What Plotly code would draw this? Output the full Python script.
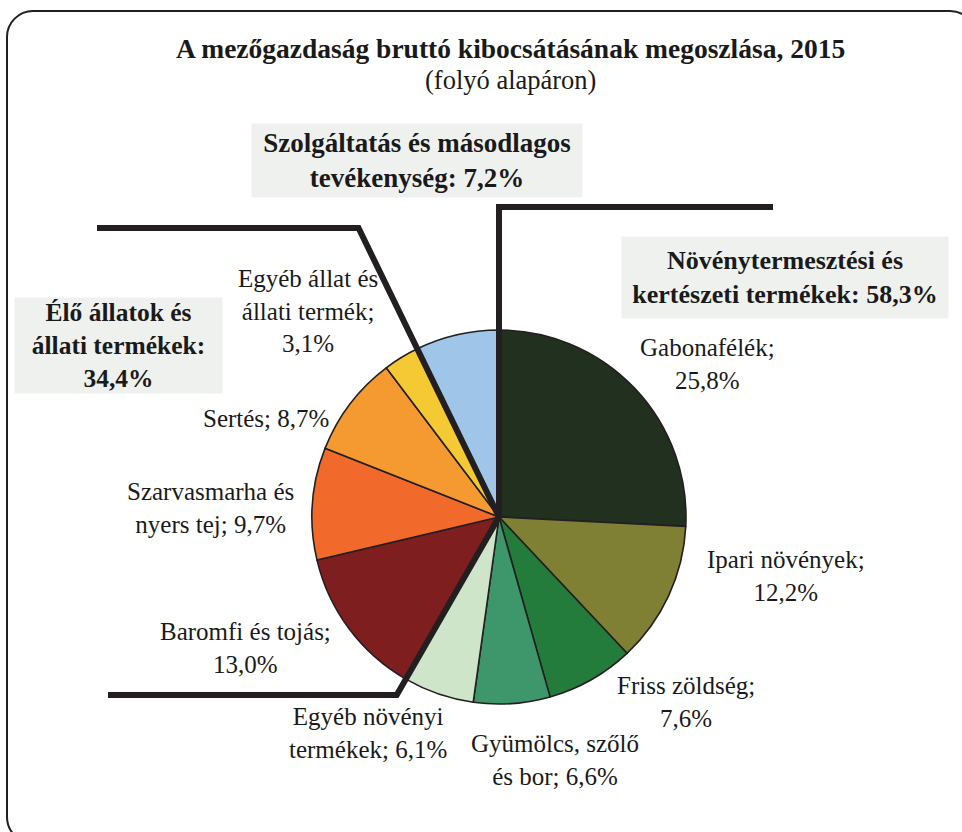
import numpy as np
import plotly.graph_objects as go

W, H = 962, 832

# slices, clockwise from 12 o'clock
names = ["Gabonafélék", "Ipari növények", "Friss zöldség", "Gyümölcs, szőlő<br>és bor",
         "Egyéb növényi<br>termékek", "Baromfi és tojás", "Szarvasmarha és<br>nyers tej",
         "Sertés", "Egyéb állat és<br>állati termék", "Szolgáltatás"]
values = [25.8, 12.2, 7.6, 6.6, 6.1, 13.0, 9.7, 8.7, 3.1, 7.2]
colors = ["#22311f", "#808034", "#237c3b", "#3d976a", "#cfe5c9",
          "#7f1e1f", "#f26a2b", "#f49a31", "#f5c933", "#9fc5e8"]
value_on_new_line = [True, True, True, False, False, True, False, False, True, None]

groups = ["Növénytermesztési és<br>kertészeti termékek: 58,3%",
          "Élő állatok és<br>állati termékek:<br>34,4%",
          "Szolgáltatás és másodlagos<br>tevékenység: 7,2%"]

title = "A mezőgazdaság bruttó kibocsátásának megoszlása, 2015"
subtitle = "(folyó alapáron)"

FONT = "Liberation Serif, serif"
INK = "#231f20"
TXT = "#1a1a1a"

cx, cy, r = 499, 517, 187


def px(x):
    return x / W


def py(y):
    return 1 - y / H


def fmt(v):
    return f"{v:.1f}".replace(".", ",") + "%"


fig = go.Figure()
fig.add_trace(go.Pie(values=values, labels=[n.replace("<br>", " ") for n in names],
                     sort=False, direction="clockwise", rotation=0,
                     marker=dict(colors=colors, line=dict(color=INK, width=1.6)),
                     textinfo="none", showlegend=False,
                     domain=dict(x=[px(cx - r), px(cx + r)], y=[py(cy + r), py(cy - r)])))

# slice labels (text positions)
label_pos = [(707, 364), (786, 576), (686, 702), (555, 760), (368, 733),
             (245, 648), (210, 508), (266, 418), (308, 311)]
annotations = []
for i, (x, y) in enumerate(label_pos):
    sep = "<br>" if value_on_new_line[i] else " "
    annotations.append(dict(x=px(x), y=py(y), xref="paper", yref="paper",
                            text=f"{names[i]};{sep}{fmt(values[i])}", showarrow=False,
                            xanchor="center", yanchor="middle", align="center",
                            font=dict(family=FONT, size=25, color=TXT)))

# group boxes: center x, center y, width, height, font size
boxes = [(785, 277.5, 326, 81, 26), (118.5, 345.5, 207, 95, 25.5), (417, 160.5, 330, 73, 27)]
for text, (x, y, w, h, fs) in zip(groups, boxes):
    annotations.append(dict(x=px(x), y=py(y), xref="paper", yref="paper",
                            text=f"<b>{text}</b>", showarrow=False, width=w, height=h,
                            borderpad=0, bgcolor="#eff1ef", xanchor="center",
                            yanchor="middle", align="center", valign="middle",
                            font=dict(family=FONT, size=fs, color=TXT)))

annotations.append(dict(x=px(510), y=py(48), xref="paper", yref="paper",
                        text=f"<b>{title}</b>", showarrow=False,
                        xanchor="center", yanchor="middle",
                        font=dict(family=FONT, size=27.5, color=TXT)))
annotations.append(dict(x=px(511), y=py(80), xref="paper", yref="paper",
                        text=subtitle, showarrow=False,
                        xanchor="center", yanchor="middle",
                        font=dict(family=FONT, size=26.5, color=TXT)))

# group separator lines follow the slice boundaries
cum = np.cumsum(values) / sum(values)


def boundary_line(frac, y_turn, x_end):
    th = 2 * np.pi * frac
    dx, dy = np.sin(th), -np.cos(th)
    t = (y_turn - cy) / dy
    xt = cx + t * dx
    return f"M{px(cx)},{py(cy)} L{px(xt)},{py(y_turn)} L{px(x_end)},{py(y_turn)}"


shapes = [
    dict(type="path", path=boundary_line(0.0, 207, 773)),
    dict(type="path", path=boundary_line(cum[8], 228, 97)),
    dict(type="path", path=boundary_line(cum[4], 695, 108)),
]
for s in shapes:
    s.update(xref="paper", yref="paper", layer="above", line=dict(color=INK, width=6))

# rounded frame (right and bottom edges fall outside the canvas)
x0, y0, x1, y1, k = 7, 11, 976, 843, 26
c = k * 0.45
frame = (f"M{px(x0)},{py(y0 + k)} C{px(x0)},{py(y0 + c)} {px(x0 + c)},{py(y0)} {px(x0 + k)},{py(y0)} "
         f"L{px(x1 - k)},{py(y0)} C{px(x1 - c)},{py(y0)} {px(x1)},{py(y0 + c)} {px(x1)},{py(y0 + k)} "
         f"L{px(x1)},{py(y1 - k)} C{px(x1)},{py(y1 - c)} {px(x1 - c)},{py(y1)} {px(x1 - k)},{py(y1)} "
         f"L{px(x0 + k)},{py(y1)} "
         f"C{px(x0 + c)},{py(y1)} {px(x0)},{py(y1 - c)} {px(x0)},{py(y1 - k)} Z")
shapes.append(dict(type="path", path=frame, xref="paper", yref="paper", layer="below",
                   line=dict(color=INK, width=2)))

fig.update_layout(width=W, height=H, margin=dict(l=0, r=0, t=0, b=0),
                  paper_bgcolor="white", plot_bgcolor="white",
                  annotations=annotations, shapes=shapes)
fig.write_html("out.html", config={"displayModeBar": False},
               post_script="document.body.style.margin='0';")
